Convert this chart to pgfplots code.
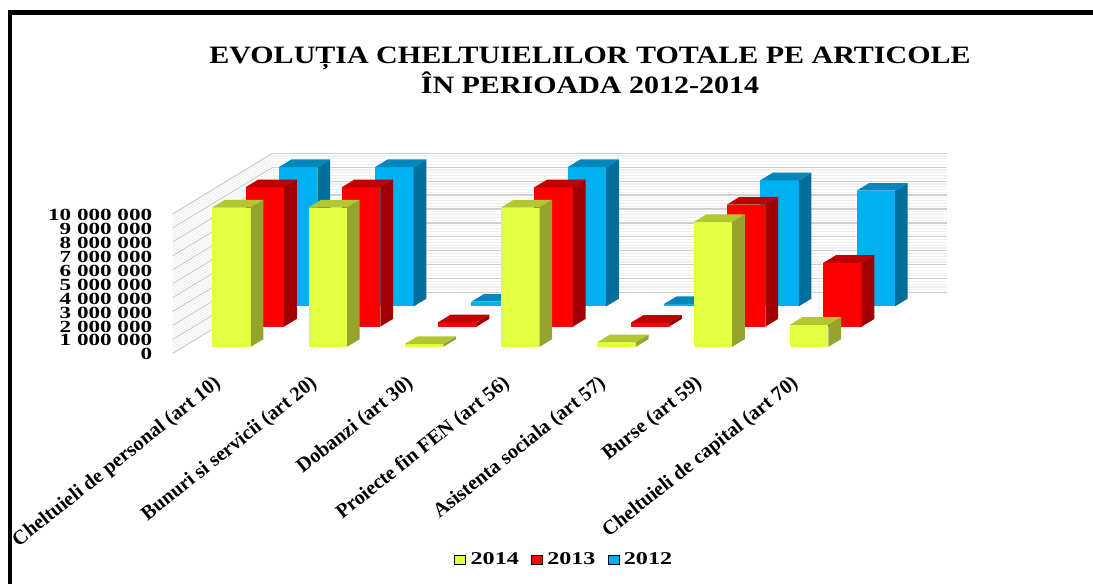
\documentclass[border=0pt]{standalone}
\usepackage{fontspec}
\setmainfont{Liberation Serif}
\newfontfamily\wideT{Liberation Serif}[FakeStretch=1.2]
\newfontfamily\wideN{Liberation Serif}[FakeStretch=1.36]
\newfontfamily\wideL{Liberation Serif}[FakeStretch=1.34]
\usepackage{pgfplots}
\pgfplotsset{compat=1.18}
\definecolor{yf}{HTML}{E4FF41}\definecolor{yt}{HTML}{B3C733}\definecolor{ys}{HTML}{96A42D}
\definecolor{rf}{HTML}{FF0000}\definecolor{rt}{HTML}{C00000}\definecolor{rs}{HTML}{A00000}
\definecolor{bf}{HTML}{00B0F0}\definecolor{bt}{HTML}{0088BC}\definecolor{bs}{HTML}{006F9E}
% one 3-D bar: category, row, value, colour prefix
\newcommand\tbar[4]{%
  \pgfmathsetmacro\xa{#1+0.3}\pgfmathsetmacro\xb{#1+0.7}%
  \pgfmathsetmacro\ya{#2+0.32}\pgfmathsetmacro\yb{#2+0.70}%
  \addplot3[forget plot,draw=none,fill=#4f] coordinates {(\xa,\ya,0)(\xb,\ya,0)(\xb,\ya,#3)(\xa,\ya,#3)} -- cycle;
  \addplot3[forget plot,draw=none,fill=#4s] coordinates {(\xb,\ya,0)(\xb,\yb,0)(\xb,\yb,#3)(\xb,\ya,#3)} -- cycle;
  \addplot3[forget plot,draw=none,fill=#4t] coordinates {(\xa,\ya,#3)(\xb,\ya,#3)(\xb,\yb,#3)(\xa,\yb,#3)} -- cycle;
}
\begin{document}
\begin{tikzpicture}[x=1pt,y=1pt]
\path[use as bounding box] (0,0) rectangle (1093,584);
\fill[black] (8,569) rectangle (1093,574);
\fill[black] (8,0) rectangle (12,574);
\begin{axis}[
  at={(172.7pt,230.7pt)},anchor=origin,
  x={(96.27pt,0pt)},y={(33.33pt,20.23pt)},z={(0pt,13.93pt)},
  xmin=0,xmax=7,ymin=0,ymax=3,zmin=0,zmax=10,
  clip=false,
  axis line style={draw=none},
  major tick style={draw=none},minor tick style={draw=none},
  xtick={0.5,1.5,2.5,3.5,4.5,5.5,6.5},
  xticklabels={Cheltuieli de personal (art 10),Bunuri si servicii (art 20),Dobanzi (art 30),Proiecte fin FEN (art 56),Asistenta sociala (art 57),Burse (art 59),Cheltuieli de capital (art 70)},
  ytick=\empty,
  ztick={0,1,2,3,4,5,6,7,8,9,10},
  zticklabels={0,1 000 000,2 000 000,3 000 000,4 000 000,5 000 000,6 000 000,7 000 000,8 000 000,9 000 000,10 000 000},
  minor z tick num=4,
  zmajorgrids,zminorgrids,
  major grid style={draw=black!18,line width=1.2pt},
  minor grid style={draw=black!6,line width=1.2pt},
  xticklabel style={font=\bfseries\fontsize{20.3}{20.3}\selectfont,rotate=38.6,anchor=east,xshift=-16pt,yshift=-20.5pt},
  zticklabel style={font=\wideN\bfseries\fontsize{17}{17}\selectfont,anchor=east,xshift=-17pt,yshift=-1pt},
  legend style={draw=none,fill=none,at={(391.5pt,-206pt)},anchor=center,legend columns=3,font=\wideL\bfseries\fontsize{18}{18}\selectfont,
    /tikz/every even column/.append style={column sep=10pt},inner sep=0pt},
  legend image code/.code={\fill[#1] (0pt,-4.5pt) rectangle (11pt,4.5pt);\path (14pt,0pt);},
]
% row 2: 2012
\tbar{0}{2}{10}{b}\tbar{1}{2}{10}{b}\tbar{2}{2}{0.34}{b}\tbar{3}{2}{10}{b}\tbar{4}{2}{0.17}{b}\tbar{5}{2}{9.05}{b}\tbar{6}{2}{8.30}{b}
% row 1: 2013
\tbar{0}{1}{10}{r}\tbar{1}{1}{10}{r}\tbar{2}{1}{0.31}{r}\tbar{3}{1}{10}{r}\tbar{4}{1}{0.27}{r}\tbar{5}{1}{8.76}{r}\tbar{6}{1}{4.57}{r}
% row 0: 2014
\tbar{0}{0}{10}{y}\tbar{1}{0}{10}{y}\tbar{2}{0}{0.20}{y}\tbar{3}{0}{10}{y}\tbar{4}{0}{0.33}{y}\tbar{5}{0}{8.95}{y}\tbar{6}{0}{1.58}{y}
\addlegendimage{fill=yf}\addlegendentry{2014}
\addlegendimage{fill=rf}\addlegendentry{2013}
\addlegendimage{fill=bf}\addlegendentry{2012}
\end{axis}
\node[font=\wideT\bfseries\fontsize{25}{30}\selectfont,align=center] at (590,514) {EVOLUȚIA CHELTUIELILOR TOTALE PE ARTICOLE\\ÎN PERIOADA 2012-2014};
\end{tikzpicture}
\end{document}
